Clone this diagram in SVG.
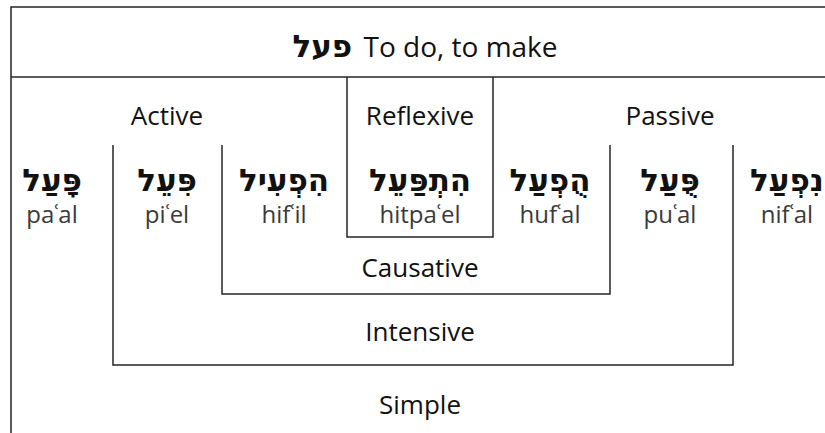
<svg xmlns="http://www.w3.org/2000/svg" width="825" height="433" viewBox="0 0 825 433">
<style>
.ln{stroke:#262626;stroke-width:1.5;fill:none}
.lbl{font-family:"Open Sans","Noto Sans",sans-serif;font-size:26px;fill:#111;text-anchor:middle}
.heb{font-family:"DejaVu Sans",sans-serif;font-size:31px;fill:#111;text-anchor:middle;font-weight:bold}
.tr{font-family:"Open Sans","Noto Sans",sans-serif;font-size:24px;fill:#3a3a3a;text-anchor:middle}
.title{font-family:"Open Sans","Noto Sans",sans-serif;font-size:28px;fill:#111}
.theb{font-family:"DejaVu Sans",sans-serif;font-size:31px;fill:#111;font-weight:bold}
</style>
<rect width="825" height="433" fill="#fff"/>
<g id="connectors">
<path class="ln" d="M11,433 V7 H825"/>
<path class="ln" d="M11,77 H825"/>
<path class="ln" d="M347,77 V237 H493 V77"/>
<path class="ln" d="M222,145 V294 H610 V145"/>
<path class="ln" d="M113,145 V365 H733 V145"/>
</g>
<g id="title">
<text x="425" y="57" text-anchor="middle"><tspan class="theb" direction="rtl" unicode-bidi="embed">פעל</tspan><tspan class="title" dx="4"> To do, to make</tspan></text>
</g>
<g id="labels">
<text class="lbl" x="167" y="125">Active</text>
<text class="lbl" x="420" y="125">Reflexive</text>
<text class="lbl" x="670" y="125">Passive</text>
<text class="lbl" x="420" y="277">Causative</text>
<text class="lbl" x="420" y="341">Intensive</text>
<text class="lbl" x="420" y="414">Simple</text>
</g>
<g id="paal"><text class="heb" x="52" y="191">פָּעַל</text><text class="tr" x="52" y="223">paʿal</text></g>
<g id="piel"><text class="heb" x="167" y="191">פִּעֵל</text><text class="tr" x="167" y="223">piʿel</text></g>
<g id="hifil"><text class="heb" x="284" y="191">הִפְעִיל</text><text class="tr" x="284" y="223">hifʿil</text></g>
<g id="hitpael"><text class="heb" x="420" y="191">הִתְפַּעֵל</text><text class="tr" x="420" y="223">hitpaʿel</text></g>
<g id="hufal"><text class="heb" x="550" y="191">הֻפְעַל</text><text class="tr" x="550" y="223">hufʿal</text></g>
<g id="pual"><text class="heb" x="670" y="191">פֻּעַל</text><text class="tr" x="670" y="223">puʿal</text></g>
<g id="nifal"><text class="heb" x="787" y="191">נִפְעַל</text><text class="tr" x="787" y="223">nifʿal</text></g>
</svg>
